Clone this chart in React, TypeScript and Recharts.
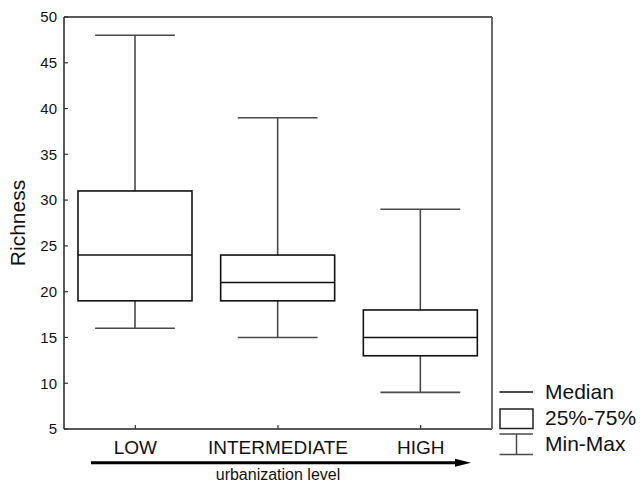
import React from 'react';
import { ComposedChart, Bar, XAxis, YAxis } from 'recharts';

const categories = ['LOW', 'INTERMEDIATE', 'HIGH'];
const minValues = [16, 15, 9];
const q1Values = [19, 19, 13];
const medianValues = [24, 21, 15];
const q3Values = [31, 24, 18];
const maxValues = [48, 39, 29];
const yTicks = [5, 10, 15, 20, 25, 30, 35, 40, 45, 50];
const legendLabels = ['Median', '25%-75%', 'Min-Max'];
const xAxisTitle = 'urbanization level';
const yAxisTitle = 'Richness';

const data = categories.map((name, i) => ({
  name,
  box: [q1Values[i], q3Values[i]],
  min: minValues[i],
  q1: q1Values[i],
  median: medianValues[i],
  q3: q3Values[i],
  max: maxValues[i],
}));

const FONT = '"Liberation Sans", Arial, sans-serif';

const BoxShape = (props: any) => {
  const { x, y, width, height, payload } = props;
  if (payload == null || height == null) return null;
  const { min, q1, median, q3, max } = payload;
  const ppu = height / (q3 - q1);
  const yOf = (v: number) => y + (q3 - v) * ppu;
  const cx = x + width / 2;
  const capW = width * 0.7;
  const wc = '#4a4a4a';
  return (
    <g>
      <line x1={cx} x2={cx} y1={yOf(max)} y2={yOf(q3)} stroke={wc} strokeWidth={1.6} />
      <line x1={cx} x2={cx} y1={yOf(q1)} y2={yOf(min)} stroke={wc} strokeWidth={1.6} />
      <line x1={cx - capW / 2} x2={cx + capW / 2} y1={yOf(max)} y2={yOf(max)} stroke={wc} strokeWidth={1.6} />
      <line x1={cx - capW / 2} x2={cx + capW / 2} y1={yOf(min)} y2={yOf(min)} stroke={wc} strokeWidth={1.6} />
      <rect x={x} y={y} width={width} height={height} fill="#fff" stroke="#111" strokeWidth={1.6} />
      <line x1={x} x2={x + width} y1={yOf(median)} y2={yOf(median)} stroke="#111" strokeWidth={1.6} />
    </g>
  );
};

export default function App() {
  return (
    <div style={{ position: 'absolute', left: 0, top: 0, width: 643, height: 482, background: '#fff', fontFamily: FONT }}>
      <ComposedChart
        width={643}
        height={482}
        data={data}
        margin={{ top: 16, right: 150, bottom: 13, left: 14 }}
      >
        <XAxis
          xAxisId="bottom"
          dataKey="name"
          orientation="bottom"
          height={40}
          axisLine={{ stroke: '#222', strokeWidth: 1.5 }}
          tickLine={{ stroke: '#333', strokeWidth: 1.2 }}
          tickSize={-4}
          tickMargin={15.5}
          tick={{ fontSize: 19, fill: '#111', fontFamily: FONT }}
          interval={0}
        />
        <XAxis
          xAxisId="top"
          dataKey="name"
          orientation="top"
          height={1}
          axisLine={{ stroke: '#222', strokeWidth: 1.5 }}
          tickLine={{ stroke: '#555', strokeWidth: 1.2 }}
          tickSize={-3}
          tick={false}
          interval={0}
        />
        <YAxis
          yAxisId="left"
          type="number"
          domain={[5, 50]}
          ticks={yTicks}
          width={50}
          axisLine={{ stroke: '#222', strokeWidth: 1.5 }}
          tickLine={{ stroke: '#333', strokeWidth: 1.2 }}
          tickSize={-4}
          tickMargin={11}
          tick={{ fontSize: 15, fill: '#111', fontFamily: FONT }}
          interval={0}
        />
        <YAxis
          yAxisId="right"
          orientation="right"
          type="number"
          domain={[5, 50]}
          ticks={yTicks}
          width={1}
          axisLine={{ stroke: '#6a6a6a', strokeWidth: 2 }}
          tickLine={{ stroke: '#555', strokeWidth: 1.2 }}
          tickSize={-3}
          tick={false}
          interval={0}
        />
        <Bar
          xAxisId="bottom"
          yAxisId="left"
          dataKey="box"
          barSize={114}
          shape={<BoxShape />}
          isAnimationActive={false}
        />
      </ComposedChart>
      <svg
        width={643}
        height={482}
        style={{ position: 'absolute', left: 0, top: 0, pointerEvents: 'none' }}
      >
        <text
          transform="translate(25,223) rotate(-90)"
          textAnchor="middle"
          fontSize={21}
          fill="#111"
          fontFamily={FONT}
        >
          {yAxisTitle}
        </text>
        <line x1={91} x2={458} y1={462.7} y2={462.7} stroke="#000" strokeWidth={3} />
        <polygon points="455,458.7 471,462.7 455,466.7" fill="#000" />
        <text x={278} y={480} textAnchor="middle" fontSize={16} fill="#111" fontFamily={FONT}>
          {xAxisTitle}
        </text>
        <line x1={499.5} x2={533} y1={392} y2={392} stroke="#111" strokeWidth={1.5} />
        <rect x={500} y={409} width={33} height={19.5} fill="#fff" stroke="#222" strokeWidth={1.5} />
        <line x1={499.5} x2={533} y1={434} y2={434} stroke="#4a4a4a" strokeWidth={1.5} />
        <line x1={499.5} x2={533} y1={454.5} y2={454.5} stroke="#4a4a4a" strokeWidth={1.5} />
        <line x1={516.5} x2={516.5} y1={434} y2={454.5} stroke="#4a4a4a" strokeWidth={1.5} />
        <text x={545} y={398.5} fontSize={21} fill="#111" fontFamily={FONT}>{legendLabels[0]}</text>
        <text x={545} y={425} fontSize={21} fill="#111" fontFamily={FONT}>{legendLabels[1]}</text>
        <text x={545} y={451} fontSize={21} fill="#111" fontFamily={FONT}>{legendLabels[2]}</text>
      </svg>
    </div>
  );
}
